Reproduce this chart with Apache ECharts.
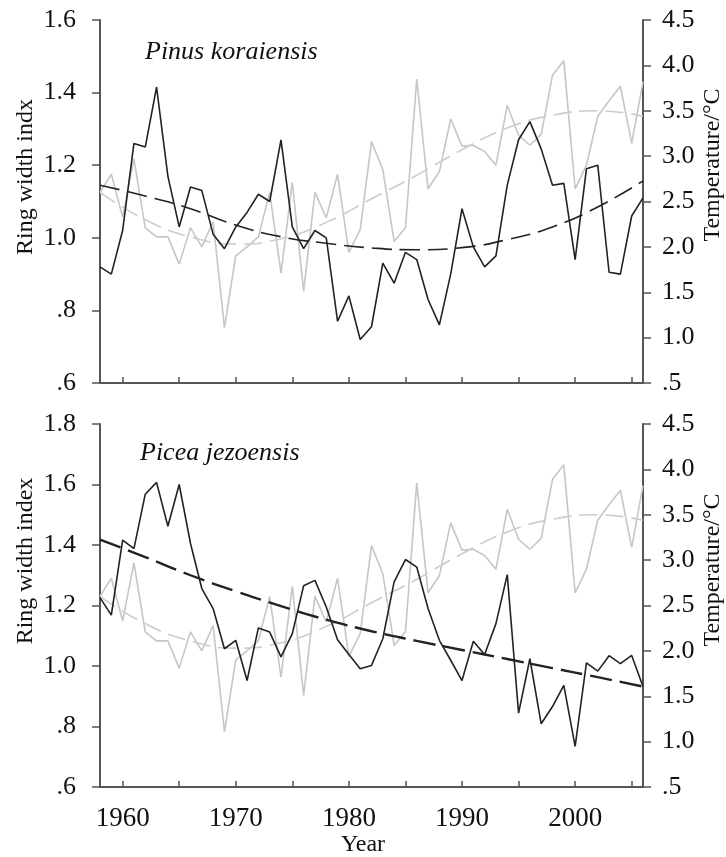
<!DOCTYPE html>
<html>
<head>
<meta charset="utf-8">
<script src="https://cdn.jsdelivr.net/npm/echarts@6/dist/echarts.min.js"></script>
<style>
  html, body { margin: 0; padding: 0; background: #fff; }
  #ringTempChart { width: 726px; height: 857px; }
</style>
</head>
<body>
<div id="ringTempChart"></div>
<script>
// 年份 1958-2006
const years = [1958, 1959, 1960, 1961, 1962, 1963, 1964, 1965, 1966, 1967,
  1968, 1969, 1970, 1971, 1972, 1973, 1974, 1975, 1976, 1977,
  1978, 1979, 1980, 1981, 1982, 1983, 1984, 1985, 1986, 1987,
  1988, 1989, 1990, 1991, 1992, 1993, 1994, 1995, 1996, 1997,
  1998, 1999, 2000, 2001, 2002, 2003, 2004, 2005, 2006]
// Pinus koraiensis ring width index
const pinusRing = [0.92, 0.90, 1.02, 1.26, 1.25, 1.415, 1.17, 1.03, 1.14, 1.13,
  1.01, 0.97, 1.03, 1.07, 1.12, 1.10, 1.27, 1.03, 0.97, 1.02,
  1.00, 0.77, 0.84, 0.72, 0.755, 0.93, 0.875, 0.96, 0.94, 0.83,
  0.76, 0.90, 1.08, 0.975, 0.92, 0.95, 1.145, 1.27, 1.32, 1.245,
  1.145, 1.15, 0.94, 1.19, 1.20, 0.905, 0.90, 1.06, 1.11]
// Picea jezoensis ring width index
const piceaRing = [1.226, 1.168, 1.416, 1.388, 1.568, 1.607, 1.462, 1.600, 1.405, 1.256,
  1.190, 1.057, 1.085, 0.952, 1.126, 1.112, 1.030, 1.107, 1.265, 1.283,
  1.195, 1.087, 1.038, 0.991, 1.002, 1.090, 1.278, 1.352, 1.327, 1.190,
  1.085, 1.019, 0.952, 1.082, 1.038, 1.140, 1.302, 0.844, 1.024, 0.809,
  0.866, 0.936, 0.734, 1.010, 0.983, 1.034, 1.008, 1.035, 0.932]
// temperature (°C), same series in both panels
const temperature = [2.60, 2.80, 2.33, 2.97, 2.21, 2.11, 2.11, 1.81, 2.21, 2.00,
  2.28, 1.11, 1.90, 2.00, 2.11, 2.60, 1.71, 2.71, 1.51, 2.60,
  2.32, 2.80, 1.94, 2.19, 3.16, 2.85, 2.06, 2.21, 3.85, 2.64,
  2.83, 3.41, 3.11, 3.12, 3.05, 2.90, 3.56, 3.23, 3.12, 3.24,
  3.89, 4.05, 2.64, 2.90, 3.44, 3.61, 3.77, 3.14, 3.82]
// 趋势线 (read every 4 years)
const trendYears = [1958, 1962, 1966, 1970, 1974, 1978, 1982, 1986, 1990, 1994, 1998, 2002, 2006]
const pinusTrend = [1.145, 1.115, 1.08, 1.035, 1.003, 0.985, 0.972, 0.967, 0.973, 0.995, 1.03, 1.085, 1.157]
const piceaTrend = [1.418, 1.36, 1.30, 1.247, 1.198, 1.153, 1.115, 1.083, 1.053, 1.023, 0.993, 0.963, 0.932]
const tempTrend = [2.60, 2.30, 2.11, 2.03, 2.09, 2.27, 2.53, 2.79, 3.07, 3.31, 3.45, 3.50, 3.44]
// 坐标轴刻度
const tickYears = [1960, 1965, 1970, 1975, 1980, 1985, 1990, 1995, 2000, 2005]
const labelYears = [1960, 1970, 1980, 1990, 2000]

const pair = (xs, ys) => xs.map((x, i) => [x, ys[i]])
const fmt = (v) => (v < 1 ? v.toFixed(1).slice(1) : v.toFixed(1))
const serif = 'Liberation Serif'
const axisLine = { lineStyle: { color: '#555', width: 2 } }

const xAxisBase = (showLabel) => ({
  type: 'value',
  min: 1958,
  max: 2006,
  splitLine: { show: false },
  axisLine: axisLine,
  axisTick: { inside: true, length: 6, customValues: tickYears, lineStyle: { color: '#555', width: 1.5 } },
  axisLabel: {
    show: showLabel,
    customValues: labelYears,
    formatter: (v) => String(v),
    margin: 18,
    color: '#111',
    fontFamily: serif,
    fontSize: 27,
  },
})

const yAxisBase = (min, max, interval, position, gridIndex) => ({
  type: 'value',
  gridIndex: gridIndex,
  position: position,
  min: min,
  max: max,
  interval: interval,
  splitLine: { show: false },
  axisLine: { show: true, lineStyle: { color: '#555', width: 2 } },
  axisTick: { show: true, length: 8, lineStyle: { color: '#555', width: 1.5 } },
  axisLabel: {
    formatter: fmt,
    margin: position === 'left' ? 24 : 19,
    color: '#111',
    fontFamily: serif,
    fontSize: 26,
  },
})

const solid = (name, data, x, y, color) => ({
  name: name,
  type: 'line',
  xAxisIndex: x,
  yAxisIndex: y,
  data: data,
  symbol: 'none',
  lineStyle: { color: color, width: 1.6 },
  z: color === '#222' ? 4 : 2,
})

const dashed = (name, data, x, y, color, width, dash) => ({
  name: name,
  type: 'line',
  xAxisIndex: x,
  yAxisIndex: y,
  data: data,
  symbol: 'none',
  smooth: true,
  lineStyle: { color: color, width: width, type: dash },
  z: color === '#222' ? 5 : 3,
})

const option = {
  animation: false,
  backgroundColor: '#fff',
  grid: [
    { left: 100, top: 20, width: 543, height: 363 },
    { left: 100, top: 424, width: 543, height: 363 },
  ],
  xAxis: [
    Object.assign({ gridIndex: 0 }, xAxisBase(false)),
    Object.assign({ gridIndex: 1 }, xAxisBase(true)),
  ],
  yAxis: [
    yAxisBase(0.6, 1.6, 0.2, 'left', 0),
    yAxisBase(0.5, 4.5, 0.5, 'right', 0),
    yAxisBase(0.6, 1.8, 0.2, 'left', 1),
    yAxisBase(0.5, 4.5, 0.5, 'right', 1),
  ],
  series: [
    solid('temp1', pair(years, temperature), 0, 1, '#c6c6c6'),
    dashed('tempTrend1', pair(trendYears, tempTrend), 0, 1, '#cccccc', 1.6, [18, 8]),
    solid('pinus', pair(years, pinusRing), 0, 0, '#222'),
    dashed('pinusTrend', pair(trendYears, pinusTrend), 0, 0, '#222', 1.6, [20, 8]),
    solid('temp2', pair(years, temperature), 1, 3, '#c6c6c6'),
    dashed('tempTrend2', pair(trendYears, tempTrend), 1, 3, '#cccccc', 1.6, [18, 8]),
    solid('picea', pair(years, piceaRing), 1, 2, '#222'),
    dashed('piceaTrend', pair(trendYears, piceaTrend), 1, 2, '#222', 2.4, [22, 8]),
  ],
  graphic: [
    { type: 'text', left: 145, top: 39, style: { text: 'Pinus koraiensis', font: 'italic 26px "Liberation Serif"', fill: '#111' } },
    { type: 'text', left: 140, top: 440, style: { text: 'Picea jezoensis', font: 'italic 26px "Liberation Serif"', fill: '#111' } },
    { type: 'text', x: 26, y: 177, rotation: Math.PI / 2, style: { text: 'Ring width indx', font: '24px "Liberation Serif"', fill: '#111', align: 'center', verticalAlign: 'middle' } },
    { type: 'text', x: 26, y: 561, rotation: Math.PI / 2, style: { text: 'Ring width index', font: '24px "Liberation Serif"', fill: '#111', align: 'center', verticalAlign: 'middle' } },
    { type: 'text', x: 713, y: 165, rotation: Math.PI / 2, style: { text: 'Temperature/°C', font: '24px "Liberation Serif"', fill: '#111', align: 'center', verticalAlign: 'middle' } },
    { type: 'text', x: 713, y: 570, rotation: Math.PI / 2, style: { text: 'Temperature/°C', font: '24px "Liberation Serif"', fill: '#111', align: 'center', verticalAlign: 'middle' } },
    { type: 'text', x: 363, y: 845, style: { text: 'Year', font: '24px "Liberation Serif"', fill: '#111', align: 'center', verticalAlign: 'middle' } },
  ],
}

const chart = echarts.init(document.getElementById('ringTempChart'))
chart.setOption(option)
window.onresize = function () {
  chart.resize()
}
</script>
</body>
</html>
